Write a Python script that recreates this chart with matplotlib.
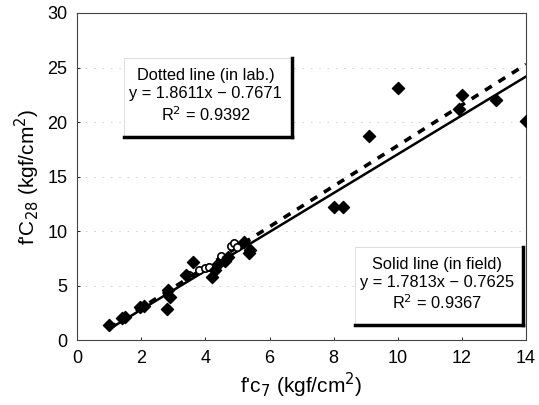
import numpy as np
import matplotlib
matplotlib.use("Agg")
import matplotlib.pyplot as plt
from matplotlib.lines import Line2D

plt.rcParams['font.family'] = ['Liberation Sans', 'DejaVu Sans']

# field data (filled diamonds)
field_x = [1.0, 1.4, 1.5, 1.96, 2.1, 2.8, 2.84, 2.9, 3.4, 3.6, 4.2, 4.3, 4.4,
           4.6, 4.7, 5.2, 5.37, 5.4, 8.0, 8.3, 9.1, 10.0, 11.9, 12.0, 13.07, 14.0]
field_y = [1.4, 2.0, 2.1, 3.0, 3.1, 2.9, 4.6, 4.0, 6.0, 7.2, 5.8, 6.4, 7.0,
           7.3, 7.6, 9.0, 8.0, 8.3, 12.2, 12.2, 18.7, 23.1, 21.2, 22.5, 22.0, 20.1]
# lab data (open circles)
lab_x = [3.5, 3.8, 4.0, 4.1, 4.5, 4.8, 4.9, 5.0]
lab_y = [6.0, 6.4, 6.6, 6.7, 7.7, 8.6, 8.9, 8.5]

# regression lines
lab_fit = (1.8611, -0.7671)
field_fit = (1.7813, -0.7625)
line_x = [1.0, 14.0]

fig = plt.figure(figsize=(5.39, 4.05), dpi=100)
ax = fig.add_axes([0.143, 0.160, 0.833, 0.808])

ax.scatter(lab_x, lab_y, marker='o', s=28, facecolor='white', edgecolor='black',
           linewidth=1.2, zorder=3)
ax.scatter(field_x, field_y, marker='D', s=38, color='black', zorder=4)

lx = np.array(line_x)
ax.plot(lx, lab_fit[0] * lx + lab_fit[1], color='black', lw=2.6,
        linestyle=(0, (2.2, 2.2)), zorder=2)
ax.plot(lx, field_fit[0] * lx + field_fit[1], color='black', lw=1.8, zorder=2)

ax.set_xlim(0, 14)
ax.set_ylim(0, 30)
ax.set_xticks(range(0, 15, 2))
ax.set_yticks(range(0, 31, 5))
ax.tick_params(labelsize=13, length=2, width=0.6, direction='in', pad=7)
for s in ax.spines.values():
    s.set_linewidth(0.8)
    s.set_color('#444444')
ax.yaxis.grid(True, color='#cccccc', linestyle=(0, (2, 8)), lw=0.6)
ax.set_axisbelow(True)

ax.set_xlabel("f'c$_7$ (kgf/cm$^2$)", fontsize=15, labelpad=3)
ax.set_ylabel("f'C$_{28}$ (kgf/cm$^2$)", fontsize=15, labelpad=4)


def shadow_box(x0, y0, x1, y1, lines):
    ax.add_patch(plt.Rectangle((x0, y0), x1 - x0, y1 - y0, transform=ax.transAxes,
                               facecolor='white', edgecolor='#d0d0d0', lw=0.5, zorder=5))
    ax.add_line(Line2D([x1, x1], [y0, y1], transform=ax.transAxes, color='black',
                       lw=2.5, zorder=6))
    ax.add_line(Line2D([x0, x1], [y0, y0], transform=ax.transAxes, color='black',
                       lw=2.5, zorder=6))
    ax.text((x0 + x1) / 2 - 0.005, (y0 + y1) / 2 + 0.005, "\n".join(lines),
            transform=ax.transAxes, ha='center', va='center', fontsize=11.8,
            linespacing=1.25, zorder=7)


shadow_box(0.105, 0.621, 0.478, 0.862,
           ["Dotted line (in lab.)", "y = 1.8611x \u2212 0.7671", "R$^2$ = 0.9392"])
shadow_box(0.619, 0.046, 0.993, 0.284,
           ["Solid line (in field)", "y = 1.7813x \u2212 0.7625", "R$^2$ = 0.9367"])

fig.savefig("out.png", dpi=100)
